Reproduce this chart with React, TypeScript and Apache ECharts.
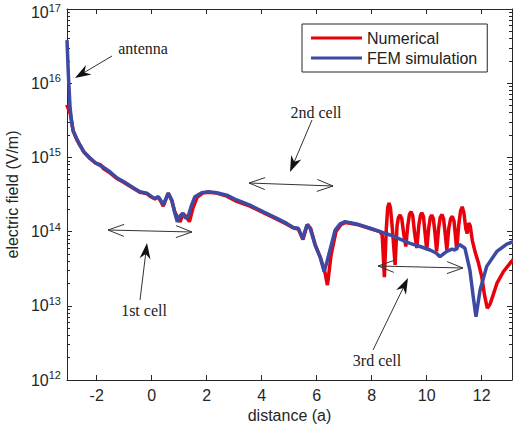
import React, { useEffect, useRef } from "react";
import * as echarts from "echarts";

// ---------- data ----------
const xTickValues = [-2, 0, 2, 4, 6, 8, 10, 12];
const yExponents = [12, 13, 14, 15, 16, 17];
const seriesNames = ["Numerical", "FEM simulation"];

const femDistance = [
  -3.08, -3.03, -2.97, -2.92, -2.86, -2.73, -2.61, -2.46, -2.24, -2.04,
  -1.76, -1.52, -1.27, -1.01, -0.67, -0.43, -0.18, -0.03, 0.12, 0.24,
  0.32, 0.42, 0.52, 0.6, 0.73, 0.83, 0.93, 1.03, 1.13, 1.23,
  1.32, 1.45, 1.57, 1.82, 2.06, 2.36, 2.73, 3.09, 3.57, 4.06,
  4.55, 4.91, 5.15, 5.33, 5.49, 5.64, 5.76, 5.94, 6.12, 6.27,
  6.37, 6.48, 6.67, 6.85, 7.03, 7.45, 7.94, 8.3, 8.67, 9.03,
  9.39, 9.76, 10.12, 10.34, 10.48, 10.73, 10.92, 11.03, 11.19, 11.39,
  11.57, 11.69, 11.79, 11.94, 12.18, 12.55, 12.91, 13.14,
];
const femField = [
  3.8e16, 1.3e16, 4.8e15, 3.2e15, 2.3e15, 1.8e15, 1.47e15, 1.18e15, 9.8e14, 8.4e14,
  7.4e14, 6.4e14, 5.3e14, 4.7e14, 3.9e14, 3.45e14, 3.3e14, 3.0e14, 2.8e14, 2.95e14,
  2.67e14, 2.28e14, 2.8e14, 3.3e14, 2.67e14, 1.84e14, 1.36e14, 1.62e14, 1.77e14, 1.52e14,
  1.57e14, 2.28e14, 2.95e14, 3.34e14, 3.45e14, 3.34e14, 3.1e14, 2.67e14, 2.28e14, 1.85e14,
  1.51e14, 1.29e14, 1.14e14, 1.11e14, 8.1e13, 1.23e14, 1.11e14, 6.6e13, 4.6e13, 2.9e13,
  3.9e13, 5.6e13, 1.05e14, 1.27e14, 1.36e14, 1.27e14, 1.11e14, 9.97e13, 9.0e13, 7.9e13,
  6.95e13, 6.3e13, 5.65e13, 5.15e13, 4.6e13, 5.4e13, 5.8e13, 5.65e13, 6.7e13, 5.96e13,
  3.0e13, 1.33e13, 7.1e12, 1.63e13, 3.4e13, 5.4e13, 6.8e13, 7.3e13,
];

const numDistance = [
  -3.09, -3.04, -2.97, -2.92, -2.86, -2.73, -2.61, -2.46, -2.24, -2.04,
  -1.85, -1.76, -1.52, -1.27, -1.01, -0.67, -0.43, -0.18, -0.03, 0.12,
  0.24, 0.32, 0.42, 0.52, 0.6, 0.73, 0.85, 1.03, 1.14, 1.25,
  1.37, 1.5, 1.65, 1.85, 2.06, 2.36, 2.73, 3.09, 3.57, 4.06,
  4.55, 4.91, 5.15, 5.33, 5.5, 5.66, 5.78, 5.96, 6.14, 6.3,
  6.39, 6.52, 6.7, 6.88, 7.05, 7.45, 7.94, 8.3,
  8.38, 8.46, 8.53, 8.58, 8.63, 8.68, 8.75, 8.85, 8.92, 8.97,
  9.03, 9.09, 9.16, 9.24, 9.31, 9.37, 9.43, 9.49, 9.56, 9.64,
  9.71, 9.77, 9.82, 9.88, 9.94, 10.0, 10.07, 10.13, 10.18, 10.24,
  10.3, 10.36, 10.43, 10.49, 10.55, 10.61, 10.67, 10.73, 10.8, 10.87,
  10.93, 10.99, 11.04, 11.09, 11.16, 11.23, 11.29, 11.35, 11.42, 11.47,
  11.53, 11.58, 11.66, 11.76, 11.87, 12.0, 12.1, 12.2, 12.3, 12.4,
  12.55, 12.79, 13.14,
];
const numField = [
  5.1e15, 4.6e15, 4.0e15, 3.2e15, 2.3e15, 1.75e15, 1.45e15, 1.17e15, 9.6e14, 8.4e14,
  7.9e14, 7.1e14, 6.2e14, 5.2e14, 4.6e14, 3.85e14, 3.4e14, 3.25e14, 2.95e14, 2.75e14,
  2.95e14, 2.6e14, 2.2e14, 2.75e14, 3.3e14, 2.6e14, 1.8e14, 1.35e14, 1.73e14, 1.6e14,
  1.36e14, 2.08e14, 2.9e14, 3.3e14, 3.4e14, 3.3e14, 3.0e14, 2.55e14, 2.2e14, 1.8e14,
  1.47e14, 1.26e14, 1.12e14, 1.08e14, 7.8e13, 1.25e14, 1.1e14, 6.4e13, 4.4e13, 2.8e13,
  1.9e13, 4.8e13, 1.0e14, 1.24e14, 1.33e14, 1.25e14, 1.1e14, 9.97e13,
  9.0e13, 2.44e13, 1.1e14, 2.1e14, 2.43e14, 2.1e14, 1.1e14, 3.55e13, 1.2e14, 1.55e14,
  1.67e14, 1.5e14, 9.5e13, 6.3e13, 1.2e14, 1.7e14, 1.85e14, 1.65e14, 9.5e13, 6.0e13,
  1.2e14, 1.65e14, 1.8e14, 1.6e14, 9.5e13, 5.65e13, 1.1e14, 1.55e14, 1.67e14, 1.5e14,
  9.5e13, 5.4e13, 1.1e14, 1.55e14, 1.7e14, 1.5e14, 9.5e13, 5.65e13, 1.1e14, 1.5e14,
  1.6e14, 1.4e14, 9.0e13, 5.65e13, 1.2e14, 1.9e14, 2.16e14, 1.8e14, 1.1e14, 9.4e13,
  1.3e14, 1.2e14, 7.5e13, 5.3e13, 3.9e13, 2.47e13, 1.4e13, 9.3e12, 1.05e13, 1.35e13,
  2.0e13, 2.9e13, 4.2e13,
];

// ---------- styles ----------
const RED = "#e8000b";
const BLUE = "#3c4aa3";
const AXIS = "#262626";
const SANS = "Liberation Sans";
const SERIF = "Liberation Serif";

const minorLogTicks: number[] = [];
for (let k = yExponents[0]; k < yExponents[yExponents.length - 1]; k++) {
  for (let m = 2; m <= 9; m++) minorLogTicks.push(k + Math.log10(m));
}

function pairs(xs: number[], ys: number[]) {
  const n = Math.min(xs.length, ys.length);
  const out: number[][] = [];
  for (let i = 0; i < n; i++) out.push([xs[i], ys[i]]);
  return out;
}

function filledArrow(x1: number, y1: number, x2: number, y2: number) {
  const dx = x2 - x1, dy = y2 - y1;
  const len = Math.hypot(dx, dy);
  const ux = dx / len, uy = dy / len;
  const px = -uy, py = ux;
  const L = 16, W = 5.5, N = 5;
  return [
    {
      type: "line", z: 100,
      shape: { x1, y1, x2: x2 - ux * (L - N), y2: y2 - uy * (L - N) },
      style: { stroke: "#333", lineWidth: 1 },
    },
    {
      type: "polygon", z: 100,
      shape: {
        points: [
          [x2, y2],
          [x2 - ux * L + px * W, y2 - uy * L + py * W],
          [x2 - ux * (L - N), y2 - uy * (L - N)],
          [x2 - ux * L - px * W, y2 - uy * L - py * W],
        ],
      },
      style: { fill: "#111" },
    },
  ];
}

function doubleArrow(x1: number, y1: number, x2: number, y2: number) {
  const dx = x2 - x1, dy = y2 - y1;
  const len = Math.hypot(dx, dy);
  const ux = dx / len, uy = dy / len;
  const px = -uy, py = ux;
  const A = 16, B = 6;
  const st = { stroke: "#333", lineWidth: 1 };
  const seg = (a: number, b: number, c: number, d: number) => ({
    type: "line", z: 100, shape: { x1: a, y1: b, x2: c, y2: d }, style: st,
  });
  return [
    seg(x1, y1, x2, y2),
    seg(x1, y1, x1 + ux * A + px * B, y1 + uy * A + py * B),
    seg(x1, y1, x1 + ux * A - px * B, y1 + uy * A - py * B),
    seg(x2, y2, x2 - ux * A + px * B, y2 - uy * A + py * B),
    seg(x2, y2, x2 - ux * A - px * B, y2 - uy * A - py * B),
  ];
}

function label(text: string, x: number, y: number) {
  return {
    type: "text", z: 100, x, y,
    style: {
      text, fontSize: 16, fontFamily: SERIF, fill: "#222",
      align: "center", verticalAlign: "middle",
      textAlign: "center", textVerticalAlign: "middle",
    },
  };
}

const annotations = [
  label("antenna", 143, 48),
  ...filledArrow(112, 56, 75, 78),
  label("2nd cell", 316, 112),
  ...filledArrow(312, 120, 290, 172),
  ...doubleArrow(249, 183, 333, 186),
  ...doubleArrow(108, 230, 192, 232),
  ...filledArrow(140, 300, 147, 243),
  label("1st cell", 144, 310),
  ...doubleArrow(378, 266, 463, 268),
  ...filledArrow(373, 350, 408, 278),
  label("3rd cell", 377, 360),
];

const X_MIN = -3.08;
const X_MAX = 13.1;
const Y_MIN = Math.pow(10, yExponents[0]);
const Y_MAX = Math.pow(10, yExponents[yExponents.length - 1]);
const TOP_EXP = yExponents[yExponents.length - 1];

export default function App() {
  const ref = useRef<HTMLDivElement>(null);
  useEffect(() => {
    if (!ref.current) return;
    const chart = echarts.init(ref.current, null, { renderer: "svg" });
    const tickStyle = { show: true, inside: true, length: 5, lineStyle: { color: AXIS, width: 1 } };
    const minorStyle = { show: true, inside: true, length: 3, lineStyle: { color: AXIS, width: 1 } };
    const lineStyleAxis = { show: true, onZero: false, lineStyle: { color: AXIS, width: 1 } };
    const hiddenLine = { show: false, onZero: false };
    chart.setOption({
      animation: false,
      backgroundColor: "#fff",
      textStyle: { fontFamily: SANS },
      grid: { left: 67, right: 1, top: 9, bottom: 50, show: false, outerBoundsMode: "none", containLabel: false },
      legend: {
        left: 302, top: 24, orient: "vertical",
        data: seriesNames.map((n) => ({ name: n, icon: "rect" })),
        itemWidth: 51, itemHeight: 3, itemGap: 4,
        padding: [6, 10, 6, 9],
        borderColor: AXIS, borderWidth: 1, borderRadius: 0,
        backgroundColor: "#fff",
        textStyle: { fontFamily: SANS, fontSize: 16, color: "#222" },
        z: 50,
      },
      xAxis: [
        {
          type: "value", position: "bottom", min: X_MIN, max: X_MAX,
          axisLine: lineStyleAxis,
          axisTick: { ...tickStyle, customValues: xTickValues },
          axisLabel: { customValues: xTickValues, fontSize: 16, fontFamily: SANS, color: AXIS, margin: 7 },
          splitLine: { show: false },
          name: "distance (a)", nameLocation: "middle", nameGap: 26,
          nameTextStyle: { fontSize: 16, fontFamily: SANS, color: AXIS },
        },
        {
          type: "value", position: "top", min: X_MIN, max: X_MAX,
          axisLine: lineStyleAxis,
          axisTick: { ...tickStyle, customValues: xTickValues },
          axisLabel: { show: false },
          splitLine: { show: false },
        },
      ],
      yAxis: [
        {
          type: "log", logBase: 10, position: "left", min: Y_MIN, max: Y_MAX, splitNumber: 5,
          axisLine: lineStyleAxis,
          axisTick: tickStyle,
          splitLine: { show: false },
          minorTick: { show: false },
          axisLabel: {
            margin: 6, color: AXIS, fontFamily: SANS,
            formatter: (v: number) => {
              const e = Math.round(Math.log10(v));
              return e === TOP_EXP ? `{bt|10}{et|${e}}` : `{b|10}{e|${e}}`;
            },
            rich: {
              b: { fontSize: 16, fontFamily: SANS, color: AXIS },
              e: { fontSize: 11, fontFamily: SANS, color: AXIS, padding: [0, 0, 10, 0] },
              bt: { fontSize: 16, fontFamily: SANS, color: AXIS, padding: [6, 0, 0, 0] },
              et: { fontSize: 11, fontFamily: SANS, color: AXIS, padding: [4, 0, 7, 0] },
            },
          },
          name: "electric field (V/m)", nameLocation: "middle", nameGap: 44,
          nameTextStyle: { fontSize: 16, fontFamily: SANS, color: AXIS },
        },
        {
          type: "value", position: "left", min: yExponents[0], max: TOP_EXP,
          axisLine: hiddenLine,
          axisTick: { ...minorStyle, customValues: minorLogTicks },
          axisLabel: { show: false },
          splitLine: { show: false },
        },
        {
          type: "log", logBase: 10, position: "right", min: Y_MIN, max: Y_MAX, splitNumber: 5,
          axisLine: lineStyleAxis,
          axisTick: tickStyle,
          axisLabel: { show: false },
          splitLine: { show: false },
        },
        {
          type: "value", position: "right", min: yExponents[0], max: TOP_EXP,
          axisLine: hiddenLine,
          axisTick: { ...minorStyle, customValues: minorLogTicks },
          axisLabel: { show: false },
          splitLine: { show: false },
        },
      ],
      series: [
        {
          name: seriesNames[0], type: "line", xAxisIndex: 0, yAxisIndex: 0,
          data: pairs(numDistance, numField),
          showSymbol: false, symbol: "none", color: RED,
          lineStyle: { color: RED, width: 3.5 }, z: 2,
        },
        {
          name: seriesNames[1], type: "line", xAxisIndex: 0, yAxisIndex: 0,
          data: pairs(femDistance, femField),
          showSymbol: false, symbol: "none", color: BLUE,
          lineStyle: { color: BLUE, width: 3.5 }, z: 3,
        },
      ],
      graphic: annotations,
    });
    return () => chart.dispose();
  }, []);
  return (
    <div
      ref={ref}
      style={{ position: "fixed", left: 0, top: 0, width: 513, height: 430, background: "#fff" }}
    />
  );
}
